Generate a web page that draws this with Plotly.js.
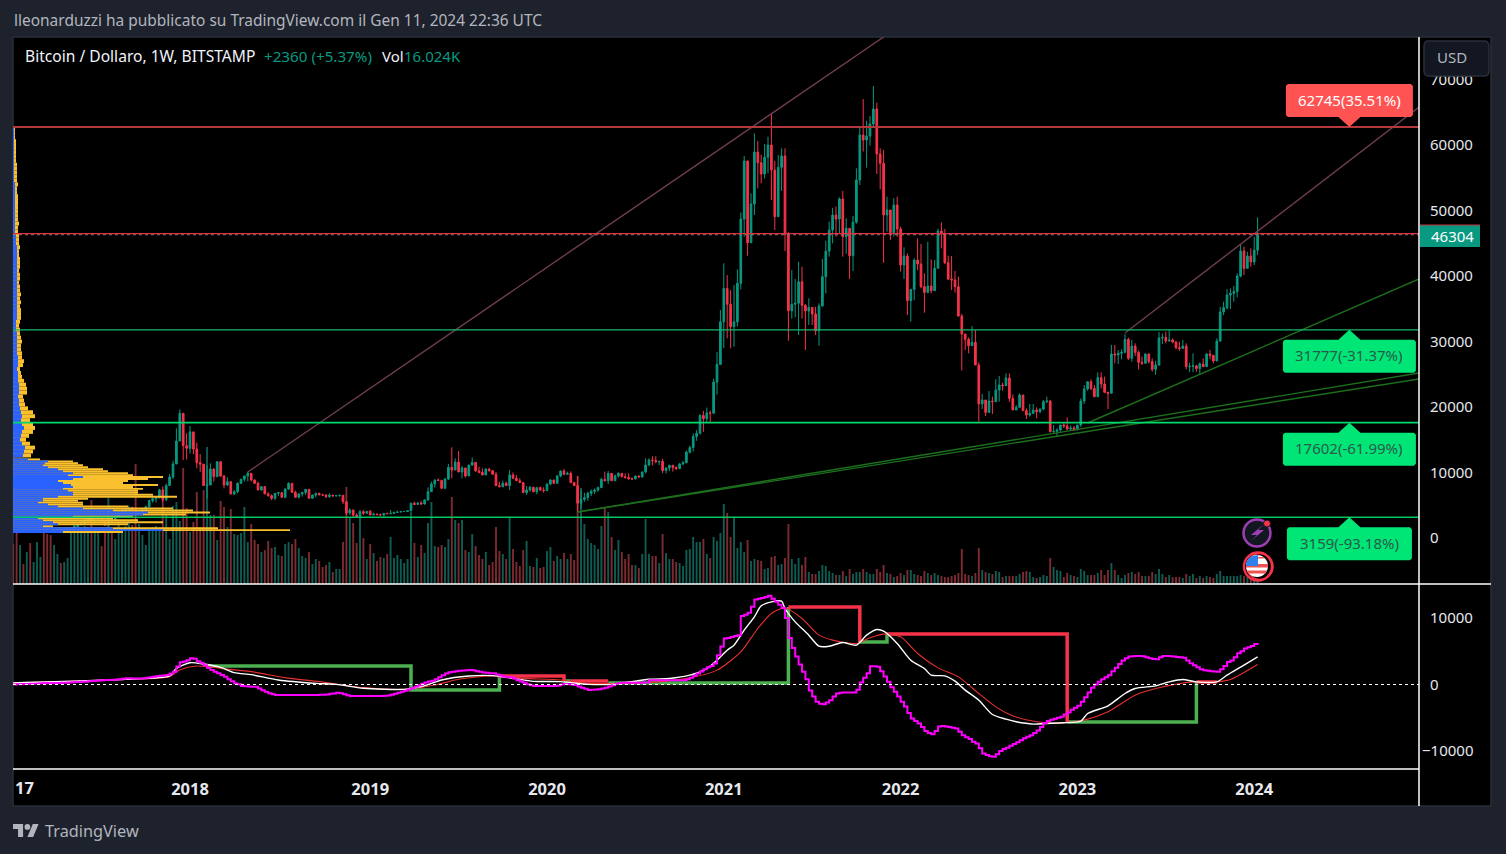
<!DOCTYPE html>
<html><head><meta charset="utf-8">
<script src="https://cdn.plot.ly/plotly-3.0.1.min.js"></script>
<style>html,body{margin:0;padding:0;background:#1e222d;overflow:hidden}#c{width:1506px;height:854px}</style>
</head><body><div id="c"></div>
<script>
// ---- weekly data, index 0 = week of 2017-01-02 ----
const firstOpen = 998;
const closes = [905,820,920,915,1020,1000,1050,1170,1270,1230,960,955,1125,1190,1170,1250,1340,1560,1770,2050,2190,2520,2950,2620,2720,2760,2520,1990,2750,2700,3250,4050,4060,4350,4600,4230,3680,3780,4300,4770,5700,6000,6130,7350,5850,8000,9300,11300,14800,19030,14100,13690,16200,13580,11500,11280,8000,8100,10530,9360,11650,9460,8090,8600,6720,7070,8350,8960,9470,9870,8850,8340,7330,7840,6720,6460,6060,6820,6920,6210,7480,8340,6970,6210,6720,6960,7430,6060,6550,6820,6560,6550,6300,6560,6430,6460,6520,5540,3820,4270,3510,3160,4020,3770,4070,3510,3640,3560,3510,3770,3700,3760,3900,3960,4030,4050,4160,5300,5130,5350,5190,5800,7070,8240,8860,8780,7580,9010,10790,10380,11600,10080,10690,9470,11140,11550,10230,10020,9620,10530,10280,9720,7990,7840,8350,8000,9620,9110,8750,8450,6920,7330,7740,7070,7690,7330,7250,8240,8860,8350,9470,10230,9720,9870,8450,7990,5300,5900,6160,6820,7120,7330,7690,8950,8750,9870,8750,9470,9880,9360,9220,9020,9000,9470,9320,10080,11150,11900,11850,11650,11700,10300,10670,11090,10780,10620,11300,11500,13100,13800,15500,16000,18700,18200,19100,19050,23800,26500,33000,38100,35700,32260,33000,38880,48700,57560,45090,50990,58930,57300,55570,58120,60000,56180,49060,56590,58320,46360,34700,35700,35830,39130,35520,34650,35210,34200,31650,35420,39900,43800,47020,49300,48700,51760,46000,47280,43100,48200,54660,61530,60760,61370,63200,65500,58630,57200,49310,50080,46600,50840,47170,41680,43050,36230,37960,42440,41830,38370,37500,38470,37760,41170,46870,46410,42030,39540,39390,38370,33890,31140,30330,29360,29870,26410,20460,21070,19180,20910,20810,22590,23360,23260,24420,21320,19540,19950,21830,19440,18780,19030,19540,19290,19680,20810,20910,16230,16280,16480,17250,17100,16640,16800,16490,17250,20910,22750,23860,22840,21580,24480,23510,22240,22090,28090,27950,28200,28340,30330,27430,29310,28340,26820,26670,28090,26920,25750,26410,30530,30630,30070,30230,29920,29060,28950,29310,26160,26220,26280,25860,26560,26160,28090,27890,27020,30070,34500,35170,37100,37350,37610,40000,43815,41170,43050,42140,43944,46304];
const highs = [1150,910,930,925,1030,1060,1060,1190,1290,1330,1260,1100,1150,1200,1215,1260,1350,1600,1850,2100,2700,2800,3000,2990,2790,2800,2790,2540,2900,2830,3450,4190,4480,4460,4980,4800,4350,4100,4350,4920,5850,6200,6340,7500,7880,8300,9750,11800,16740,19640,19030,15980,17100,16200,14550,12800,11300,11100,11400,10630,11650,11650,9620,9260,8500,7330,8500,9050,9470,10120,9770,8950,8600,7940,7730,7000,6660,6820,6920,6900,7580,8500,8340,7220,6820,6960,7430,7430,6660,6920,6920,6770,6670,6820,6560,6560,6600,6520,5650,4530,4310,3770,4280,4280,4120,4280,3870,3770,3720,3770,3820,4280,4020,4170,4130,4130,4280,5400,5550,5450,5650,5900,7730,8600,8950,9110,8890,9110,11300,13842,12160,13280,10990,10690,11140,12300,11550,10890,10640,10640,10640,10380,10060,8600,8760,8600,10380,10020,9620,9110,8550,7940,7940,7690,7690,7840,7740,8350,8960,8860,9620,10280,10540,10130,10180,8600,9460,7330,6920,7070,7430,7580,7840,9210,10130,10230,9870,9720,10030,9870,9870,9870,9260,9510,9520,10130,12160,12160,12480,12470,11790,12090,10800,11180,11170,10950,11440,11740,13350,14090,15960,16480,18900,19400,19900,19450,24300,28400,34800,41930,40150,37860,38620,41000,49700,58320,57600,52620,61780,60600,58470,60150,61270,64830,57560,58470,59490,59490,46700,40900,39540,42190,41420,35700,36590,35200,35300,35830,42590,45400,48300,50400,50600,52000,53000,48800,47280,49160,56440,62900,67020,63700,64400,69000,66460,59490,59240,52110,50080,51900,52110,47530,44380,43460,38000,42700,45750,44900,40400,45240,42540,42440,47200,48190,47170,43100,43050,40760,39900,34200,31150,30630,32360,31750,26820,21980,21070,22440,21580,24220,24730,23710,25140,25140,21930,20300,22090,21830,19800,20460,20460,19950,19800,21070,21580,21070,17250,16740,17250,17610,18420,17150,17100,17250,21320,23360,23970,24220,23360,25290,25290,24630,22340,29470,29470,28700,28810,31140,30580,30230,29720,28600,27680,28190,28190,27430,27070,31450,31240,31500,31860,30480,30070,29980,30230,29720,26770,28190,26410,26820,27430,28190,28700,27940,30480,35320,36080,37960,38120,38470,40400,44830,44500,43700,44220,46000,48950];
const lows = [880,750,815,880,910,950,990,1040,1170,1020,940,900,950,1110,1150,1150,1240,1340,1530,1700,1900,2100,2480,2050,2450,2350,2450,1830,1900,2400,2620,3200,3900,3980,4300,4050,2970,3500,3620,4200,4700,5400,5400,6050,5500,5600,7950,9000,11300,14800,11900,12000,12900,12800,10640,10100,7990,6060,8100,8600,9360,9360,7580,7920,6660,6560,6820,8240,8650,8650,8650,8240,7330,7220,6720,6310,5800,5800,6420,6190,6060,7330,6920,6210,6060,6310,6570,6060,6000,6210,6560,6410,6120,6120,6310,6350,6300,5200,3500,3510,3160,3160,3160,3510,3760,3510,3510,3510,3360,3260,3660,3690,3660,3820,3950,3980,3980,4020,5040,5130,5090,5090,5700,7070,7680,8750,7580,7580,8860,9110,10380,10080,9110,9210,9470,11000,10120,9870,9620,9720,10130,9720,7940,7740,7740,7990,7330,9010,8750,8450,6920,6570,7070,6970,6670,7230,6920,7270,8040,8250,8550,9260,9620,9720,8450,7990,3970,4530,5550,5700,6410,6720,7070,7690,8600,8240,8700,8700,9210,9260,9110,8960,9000,9000,9210,9210,9870,10990,11100,11400,11150,9900,9850,10200,10130,10370,10500,11170,11400,12900,13200,14850,15800,16200,17600,17600,19000,21900,26500,29000,30480,28960,29200,32300,37960,46000,43100,45100,49300,53380,54150,54900,55700,51600,47020,49000,53000,43800,30130,33480,33700,31000,33500,28700,32520,32520,30990,29360,35320,37350,42950,44980,46000,46500,42950,43400,39540,40760,48000,53900,59000,56540,59900,62900,55570,53230,42030,46770,45500,46000,46000,40660,39540,34040,33030,36300,40900,38110,34400,37350,37350,37760,41170,44220,41800,39380,37860,37450,33790,25550,28700,28200,29360,26410,17760,19700,18630,19180,18930,20810,20810,22490,23360,20810,19540,19540,19950,19440,18170,18520,18930,18270,19030,19540,20560,16130,15980,15570,16230,16790,16490,16390,16340,16490,16990,20460,22490,22590,21480,21480,22850,22090,19690,22090,26660,26560,27280,28200,27170,26920,27790,25750,26410,26670,26660,25390,24880,26310,29620,29720,30020,29720,28800,28550,28950,25750,25340,25340,25390,25040,26160,26160,27280,26660,27020,29970,34040,34900,34960,36080,36740,39800,40150,41170,41420,41680,43200];
// weekly volume, thousand BTC
const volumeK = [120,153,117,60,96,123,66,126,81,153,150,147,117,90,63,66,78,156,177,171,171,174,153,252,153,168,114,162,258,168,135,183,168,174,183,177,360,180,147,117,162,171,174,162,258,207,135,234,246,189,348,228,156,186,276,171,282,411,207,207,132,249,231,171,225,150,147,153,231,126,180,132,120,96,102,129,108,111,87,84,120,126,120,135,108,84,78,96,60,75,69,51,57,66,36,45,45,126,291,201,183,123,201,138,75,120,93,69,81,78,90,141,78,87,75,63,75,216,123,81,117,93,183,246,114,111,117,111,135,261,192,183,192,102,96,150,114,87,75,96,57,66,171,99,90,75,198,105,66,54,102,129,54,51,78,48,51,99,111,69,84,75,93,75,90,72,324,288,180,135,123,117,105,174,231,216,141,102,132,96,75,90,57,57,48,90,195,90,84,84,63,150,93,75,75,66,63,54,102,105,141,126,126,135,90,78,141,129,153,240,213,141,201,108,126,96,132,69,75,72,69,45,48,81,84,57,60,78,180,75,60,78,57,81,36,30,30,39,57,54,39,33,27,27,39,24,45,30,36,36,45,36,30,30,45,36,57,33,30,21,24,33,27,42,42,30,27,24,39,33,27,33,27,24,21,21,24,27,33,105,30,27,24,33,108,42,36,33,30,39,36,21,24,24,24,24,30,36,39,36,21,18,21,27,24,78,51,42,39,21,33,27,24,21,45,39,27,27,27,33,42,27,42,63,42,27,18,27,33,36,30,36,24,24,24,36,30,45,30,21,27,21,21,21,18,30,24,30,18,24,18,24,21,18,30,39,24,24,24,24,24,27,24,21,24,27,16];
// oscillator (weekly, USD): magenta momentum line
const momentum = [0,20,40,60,90,110,130,150,190,210,200,190,210,230,250,280,300,330,360,390,410,430,470,520,570,610,650,680,690,720,760,800,860,925,930,920,900,910,925,1000,1080,1150,1230,1300,1370,1430,1650,1930,2700,3330,3450,3650,3930,3880,3500,3280,2900,2500,2180,1900,1700,1430,1150,800,500,150,50,-225,-260,-300,-325,-350,-600,-850,-1100,-1330,-1450,-1580,-1580,-1580,-1580,-1580,-1580,-1580,-1580,-1580,-1580,-1580,-1580,-1580,-1560,-1540,-1500,-1400,-1350,-1230,-1300,-1450,-1600,-1730,-1730,-1730,-1730,-1730,-1730,-1730,-1730,-1730,-1730,-1700,-1650,-1550,-1400,-1250,-1080,-950,-750,-550,-325,-100,100,300,450,575,800,1100,1400,1650,1850,1930,2000,2050,2100,2130,2180,2150,2000,1900,1800,1750,1700,1680,1500,1350,1220,1100,1080,900,650,450,250,50,-100,-225,-225,-230,-225,-220,-225,-225,-150,0,75,50,0,-75,-300,-500,-650,-825,-800,-750,-700,-600,-475,-300,-100,100,175,250,250,250,260,270,280,290,300,650,650,650,640,630,620,620,630,640,650,650,800,1000,1300,1650,1950,2300,2600,2800,3150,4400,5700,6900,7000,7150,7300,7400,10300,10500,10800,11700,12800,12900,13000,13150,13330,12900,12430,12000,11500,10000,7000,5500,4200,3000,1900,800,-900,-1800,-2600,-2900,-2960,-2700,-2360,-1800,-1350,-1250,-1200,-1200,-1200,-1200,-800,300,1000,1700,2760,2760,2660,2000,1200,400,-400,-1100,-1800,-2600,-3300,-4300,-5110,-5500,-5870,-6400,-7000,-7300,-7470,-7000,-6300,-6250,-6300,-6400,-6500,-6620,-7100,-7620,-7950,-8200,-8600,-8870,-9600,-10380,-10600,-10800,-10880,-10500,-10000,-9700,-9500,-9200,-8950,-8700,-8400,-8100,-7850,-7620,-7300,-6900,-6400,-5800,-5500,-5300,-5150,-5000,-4860,-4500,-4200,-3800,-3500,-3200,-2600,-1900,-1200,-500,0,400,800,1100,1400,2000,2500,3100,3600,3950,4200,4260,4300,4300,4260,4100,3950,3850,3800,4100,4300,4300,4250,4200,4150,4100,4010,3600,3200,2900,2600,2300,2160,2050,2000,1950,1900,2300,2800,3400,3600,4100,4700,5000,5400,5600,5800,6100,6250];
// white and red averages, read at turning points: week index / value
const whiteWeeks = [0,33,46,48,52,56,61,65,70,78,89,95,103,115,120,126,134,141,147,153,161,169,176,187,193,199,204,207,210,212,215,218,220,223,226,227,230,234,237,240,244,248,251,254,256,260,264,268,270,274,277,280,284,288,292,295,300,304,309,314,316,322,327,330,336,340,344,348,354,357,362,366];
const whiteVals = [225,780,1280,2430,3280,3080,2580,1780,1480,680,175,25,-575,-730,-325,680,1280,1330,925,475,425,25,25,800,900,1400,2400,3660,5160,5900,8170,10180,11830,12430,12530,11430,9420,7420,5760,5760,6320,5920,7420,8270,8020,6170,3660,2410,1400,1300,500,-850,-2360,-4510,-5210,-5610,-5960,-5860,-5760,-5510,-4360,-3210,-1350,-600,-200,400,750,400,400,1400,2910,4160];
const redWeeks = [0,33,46,49,54,61,70,80,90,103,115,124,131,141,150,161,169,186,199,207,214,219,223,227,232,237,241,248,252,256,261,266,272,278,284,289,294,301,309,315,322,330,337,347,354,358,366];
const redVals = [225,780,1180,2180,2780,2430,1930,1030,425,-475,-730,-75,780,1280,925,680,175,275,1000,2160,4910,8420,10680,11530,9930,7420,6670,6170,7020,7570,7170,4660,2500,1150,-1350,-3360,-4710,-5610,-5760,-5360,-4110,-1600,-500,400,400,750,3010];
// thick stepped line: green and red runs
const stepGreenWeeks = [57,117,117,143,143,null,162,164,null,175,228,228,null,249,257,257,null,310,348,348];
const stepGreenVals = [2780,2780,-830,-830,1280,null,530,530,null,230,230,11650,null,6390,6390,7590,null,-5640,-5640,380];
const stepRedWeeks = [143,162,162,null,164,175,null,228,249,249,null,257,310,310,null,348,354];
const stepRedVals = [1280,1280,530,null,530,530,null,11650,11650,6390,null,7590,7590,-5640,null,380,380];
// horizontal levels
const levelSupport = [31777,17602,3159];
const levelSupportText = ['31777(-31.37%)','17602(-61.99%)','3159(-93.18%)'];
const levelResist = 62745, levelResistText = '62745(35.51%)';
const lastPrice = 46304, redLine = 46480;
// sloped lines: [week, price, week, price]
const rayPink = [[69,10076,256,76489],[327,31300,413.5,65800]];
const rayGreen = [[166,3969,413.5,25191],[166,3969,413.5,24275],[316,17557,413.5,39542]];
// volume profile rows
const vpLowPrice = [900,1200,1500,1800,2100,2400,2700,3000,3300,3600,3900,4200,4500,4800,5100,5400,5700,6000,6300,6600,6900,7200,7500,7800,8100,8400,8700,9000,9300,9600,9900,10200,10500,10800,11100,11400,11700,12000];
const vpLowBlue = [50,150,100,30,45,40,30,25,60,130,135,100,70,45,35,25,30,30,45,60,60,55,50,60,58,50,45,60,70,55,60,50,45,35,30,32,35,15];
const vpLowTotal = [110,277,205,40,115,150,125,100,120,173,197,180,160,115,70,70,65,75,164,140,125,125,130,120,145,110,115,135,150,120,115,95,90,75,70,65,60,27];
const vpHighPrice = [12600,13200,13800,14400,15000,15600,16200,16800,17400,18000,18600,19200,19800,20400,21000,21600,22200,22800,23400,24000,24600,25200,25800,26400,27000,27600,28200,28800,29400,30000,30600,31200,31800,32400,33000,33600,34200,34800,35400,36000,36600,37200,37800,38400,39000,39600,40200,40800,41400,42000,42600,43200,43800,44400,45000,45600,46200,46800,47400,48000,48600,49200,49800,50400,51000,51600,52200,52800,53400,54000,54600,55200,55800,56400,57000,57600,58200,58800,59400,60000,60600,61200,61800,62400];
const vpHighBlue = [10,11,12,9,7,8,9,11,9,8,9,8,7,6,6,5,6,6,6,5,5,5,4,5,5,5,4,4,4,4,4,4,3,3,3,4,4,4,4,4,4,4,4,4,4,4,4,4,4,4,4,4,4,4,3,3,3,2,2,2,2,2,2,2,2,2,2,2,2,2,1,1,1,1,1,1,1,1,1,1,1,1,1,1];
const vpHighTotal = [18,20,22,17,13,16,20,22,20,17,22,20,15,12,11,10,14,14,13,11,9,8,7,10,11,9,9,8,8,9,8,7,7,6,7,8,8,8,7,8,7,8,7,7,6,7,7,6,7,7,7,6,6,7,6,6,6,5,5,6,5,5,5,5,5,5,5,4,4,5,4,4,4,4,4,3,3,3,3,3,3,2,2,2];
const yearTicks = ['2018-01-01','2019-01-07','2020-01-06','2021-01-04','2022-01-03','2023-01-02','2024-01-01'];
const yearLabels = ['2018','2019','2020','2021','2022','2023','2024'];
const priceTicks = [0,10000,20000,30000,40000,50000,60000,70000];
const oscTicks = [0,10000];

// ---- helpers ----
const W=1506,H=854, FONT='Noto Sans';
const wk = i => i===null?null:new Date(Date.UTC(2017,0,2)+i*7*864e5).toISOString().slice(0,19).replace('T',' ');
const weeks = closes.map((_,i)=>wk(i));
const opens = closes.map((_,i)=>i?closes[i-1]:firstOpen);
const UP='#089981', DOWN='#f7334a';
const fx=x=>x/W, fy=y=>1-y/H;
const labelWeek = 393.0;

const traces=[];
traces.push({type:'bar',x:weeks,y:volumeK,xaxis:'x',yaxis:'y',width:7*864e5*0.56,hoverinfo:'skip',
  marker:{color:closes.map((c,i)=>c>=opens[i]?'#0f5c52':'#7c2b30'),line:{width:0}}});
traces.push({type:'candlestick',x:weeks,open:opens,high:highs,low:lows,close:closes,xaxis:'x',yaxis:'y2',
  width:7*864e5*0.62,whiskerwidth:0,hoverinfo:'skip',
  increasing:{line:{color:UP,width:1},fillcolor:UP},decreasing:{line:{color:DOWN,width:1},fillcolor:DOWN}});
rayPink.forEach(r=>traces.push({type:'scatter',mode:'lines',x:[wk(r[0]),wk(r[2])],y:[r[1],r[3]],xaxis:'x',yaxis:'y2',hoverinfo:'skip',line:{color:'#6f3d55',width:1.4}}));
rayGreen.forEach(r=>traces.push({type:'scatter',mode:'lines',x:[wk(r[0]),wk(r[2])],y:[r[1],r[3]],xaxis:'x',yaxis:'y2',hoverinfo:'skip',line:{color:'#1c6f1c',width:1.4}}));
// volume profile
const vpBar=(y,x,c,h)=>({type:'bar',orientation:'h',y,x,xaxis:'x2',yaxis:'y2',width:h,hoverinfo:'skip',marker:{color:c,line:{width:0}}});
traces.push(vpBar(vpLowPrice,vpLowTotal,'#fbc02d',300),vpBar(vpLowPrice,vpLowBlue,'#2962ff',300));
traces.push(vpBar(vpHighPrice,vpHighTotal,'#fbc02d',600),vpBar(vpHighPrice,vpHighBlue,'#2962ff',600));
// oscillator
const osc=(x,y,c,w,shape,sm)=>({type:'scatter',mode:'lines',x,y,xaxis:'x',yaxis:'y3',hoverinfo:'skip',connectgaps:false,line:Object.assign({color:c,width:w,shape:shape||'linear'},sm?{smoothing:sm}:{})});
traces.push(osc(stepGreenWeeks.map(wk),stepGreenVals,'#4caf50',3.5));
traces.push(osc(stepRedWeeks.map(wk),stepRedVals,'#f7334a',3.5));
traces.push(osc(redWeeks.map(wk),redVals,'#e8302f',1.1,'spline',0.7));
traces.push(osc(whiteWeeks.map(wk),whiteVals,'#ffffff',1.4,'spline',0.7));
traces.push(osc(weeks,momentum,'#ff00ff',2,'hv'));

// ---- shapes ----
const rectP=(x0,y0,x1,y1,fill,line,layer)=>({type:'rect',xref:'paper',yref:'paper',x0:fx(x0),x1:fx(x1),y0:fy(y0),y1:fy(y1),fillcolor:fill,line:line||{width:0},layer:layer||'above'});
const lineP=(x0,y0,x1,y1,c,w)=>({type:'line',xref:'paper',yref:'paper',x0:fx(x0),x1:fx(x1),y0:fy(y0),y1:fy(y1),line:{color:c,width:w||1},layer:'above'});
const pathP=(pts,fill,line)=>({type:'path',xref:'paper',yref:'paper',path:'M '+pts.map(p=>fx(p[0])+' '+fy(p[1])).join(' L ')+' Z',fillcolor:fill,line:line||{width:0},layer:'above'});
const circ=(cx,cy,r,fill,line)=>({type:'circle',xref:'paper',yref:'paper',x0:fx(cx-r),x1:fx(cx+r),y0:fy(cy+r),y1:fy(cy-r),fillcolor:fill,line:line||{width:0},layer:'above'});
const hline=(v,c,w,dash)=>({type:'line',xref:'x domain',yref:'y2',x0:0,x1:1,y0:v,y1:v,line:{color:c,width:w,dash:dash||'solid'},layer:'above'});
function tag(level,halfW,up,color){ // box with pointer, pixel offsets from the level line
  const s=up?-1:1;
  const path=`M 0 0 L 11 ${s*10} L ${halfW-2} ${s*10} L ${halfW} ${s*12} L ${halfW} ${s*41} L ${halfW-2} ${s*43} L ${-halfW+2} ${s*43} L ${-halfW} ${s*41} L ${-halfW} ${s*12} L ${-halfW+2} ${s*10} L -11 ${s*10} Z`;
  return {type:'path',xref:'x',yref:'y2',xsizemode:'pixel',ysizemode:'pixel',xanchor:wk(labelWeek),yanchor:level,path,fillcolor:color,line:{width:0},layer:'above'};
}
function disc(cx,cy,r,y0,y1){ // band of a circle between two y values, for the flag
  const pts=[],n=10;
  for(let k=0;k<=n;k++){const y=y0+(y1-y0)*k/n;pts.push([cx+Math.sqrt(Math.max(0,r*r-(y-cy)*(y-cy))),y]);}
  for(let k=n;k>=0;k--){const y=y0+(y1-y0)*k/n;pts.push([cx-Math.sqrt(Math.max(0,r*r-(y-cy)*(y-cy))),y]);}
  return pts;
}
const shapes=[
  rectP(13,37,1491,806,'#000000',{color:'#2a2e39',width:1.5},'below'),
  hline(levelResist,'#b23a3e',2),
  hline(lastPrice,'#8f8080',1,'dot'),
  hline(redLine,'#e0303f',1.2),
  hline(levelSupport[0],'#17b86a',1.3),
  hline(levelSupport[1],'#00d96b',1.8),
  hline(levelSupport[2],'#00c860',1.6),
  {type:'line',xref:'x domain',yref:'y3',x0:0,x1:1,y0:0,y1:0,line:{color:'#ffffff',width:1,dash:'dot'},layer:'above'},
  tag(levelResist,63.5,false,'#ff5252'),
  tag(levelSupport[0],66.5,true,'#00e676'),
  tag(levelSupport[1],66.5,true,'#00e676'),
  tag(levelSupport[2],62.5,true,'#00e676'),
  lineP(13,584,1491,584,'#ffffff',1.5),
  lineP(13,769,1419,769,'#ffffff',1.5),
  lineP(1419,37,1419,806,'#ffffff',1.5),
  // last price pill
  rectP(1420,225,1480,247,'#089981'),
  lineP(1420,225,1480,225,'#c8303e',1),
  // USD button
  {type:'path',xref:'paper',yref:'paper',layer:'above',fillcolor:'#131722',line:{color:'#2a2e39',width:1.5},
   path:`M ${fx(1429)} ${fy(41)} L ${fx(1484)} ${fy(41)} Q ${fx(1489)} ${fy(41)} ${fx(1489)} ${fy(46)} L ${fx(1489)} ${fy(71)} Q ${fx(1489)} ${fy(76)} ${fx(1484)} ${fy(76)} L ${fx(1429)} ${fy(76)} Q ${fx(1424)} ${fy(76)} ${fx(1424)} ${fy(71)} L ${fx(1424)} ${fy(46)} Q ${fx(1424)} ${fy(41)} ${fx(1429)} ${fy(41)} Z`},
  // lightning badge
  circ(1257,533,13.5,'#131722',{color:'#9c3fb5',width:2.5}),
  pathP([[1264,524],[1251,535],[1257,535],[1251,541],[1264,530],[1258,530]],'#9c3fb5'),
  circ(1267,523.5,3.5,'#f7334a',{color:'#131722',width:1}),
  // flag badge
  circ(1258,566.5,14,'#000000',{color:'#f7334a',width:2.4}),
  circ(1260,566.5,13,'rgba(0,0,0,0)',{color:'#f7334a',width:1.5}),
  circ(1257,566,11,'#ffffff'),
  pathP(disc(1257,566,11,564,567.5),'#ef5350'),
  pathP(disc(1257,566,11,570.5,573.5),'#ef5350'),
  pathP(disc(1257,566,11,557,558.5),'#ef5350'),
  pathP([[1246,566],[1246.5,562],[1249,558],[1252,556],[1258,555],[1258,566]],'#2f80ed'),
  // TradingView mark
  pathP([[23.08,836.98],[18.04,836.98],[18.04,829.06],[13,829.06],[13,824],[23.08,824]],'#b2b5be'),
  pathP([[33.16,836.98],[27.4,836.98],[32.8,824],[38.56,824]],'#b2b5be'),
  circ(27.4,826.9,2.88,'#b2b5be'),
];

// ---- annotations ----
const ann=(t,x,y,size,color,extra)=>Object.assign({text:t,xref:'paper',yref:'paper',x:fx(x),y:fy(y),xanchor:'left',yanchor:'middle',showarrow:false,font:{family:FONT,size,color},borderpad:0},extra||{});
const tagText=(t,level,shift,color)=>({text:t,xref:'x',yref:'y2',x:wk(labelWeek),y:level,yshift:shift,xanchor:'center',yanchor:'middle',showarrow:false,font:{family:FONT,size:15,color},borderpad:0});
const annotations=[
  ann('lleonarduzzi ha pubblicato su TradingView.com il Gen 11, 2024 22:36 UTC',12.5,20.5,15.47,'#b2b5be'),
  ann('Bitcoin / Dollaro, 1W, BITSTAMP',23.5,56,15.6,'#f0f3fa'),
  ann('+2360 (+5.37%)',262.5,56,15.2,'#089981'),
  ann('Vol',380.5,56,15,'#f0f3fa'),
  ann('16.024K',402.5,56,15,'#089981'),
  ann('USD',1435.5,57,15,'#b2b5be'),
  ann(String(lastPrice),1429.5,236,15,'#ffffff'),
  ann('\u221210000',1421,750,15,'#e6e8ee'),
  ann('17',13.5,787.5,16.5,'#e6e8ee',{font:{family:FONT,size:16.5,color:'#e6e8ee',weight:700}}),
  ann('TradingView',43.5,830.5,16.3,'#b2b5be'),
  tagText(levelResistText,levelResist,27.5,'#ffffff'),
  tagText(levelSupportText[0],levelSupport[0],-25.5,'#285a4c'),
  tagText(levelSupportText[1],levelSupport[1],-25.5,'#285a4c'),
  tagText(levelSupportText[2],levelSupport[2],-25.5,'#285a4c'),
];

const tickFont={family:FONT,size:15,color:'#e6e8ee'};
const layout={
  width:W,height:H,autosize:false,margin:{l:0,r:0,t:0,b:0,pad:0},
  paper_bgcolor:'#1e222d',plot_bgcolor:'rgba(0,0,0,0)',showlegend:false,barmode:'overlay',dragmode:false,
  xaxis:{type:'date',domain:[fx(13),fx(1419)],range:[wk(-0.06),wk(413.47)],anchor:'y3',tickmode:'array',tickvals:yearTicks,ticktext:yearLabels,
    tickfont:{family:FONT,size:16.5,color:'#e6e8ee',weight:700},ticks:'outside',ticklen:5,tickcolor:'rgba(0,0,0,0)',showgrid:false,zeroline:false,showline:false,rangeslider:{visible:false}},
  xaxis2:{overlaying:'x',anchor:'y2',range:[0,1406],visible:false,showgrid:false,zeroline:false},
  yaxis:{domain:[fy(584),fy(37)],range:[0,1641],anchor:'x',visible:false,showgrid:false,zeroline:false},
  yaxis2:{overlaying:'y',side:'right',anchor:'x',range:[-7023,76489],tickmode:'array',tickvals:priceTicks,ticktext:priceTicks.map(String),
    tickfont:tickFont,ticks:'outside',ticklen:7,tickcolor:'rgba(0,0,0,0)',showgrid:false,zeroline:false,showline:false},
  yaxis3:{domain:[fy(769),fy(585)],side:'right',anchor:'x',range:[-12707,14962],tickmode:'array',tickvals:oscTicks,ticktext:oscTicks.map(String),
    tickfont:tickFont,ticks:'outside',ticklen:7,tickcolor:'rgba(0,0,0,0)',showgrid:false,zeroline:false,showline:false},
  shapes,annotations
};
Plotly.newPlot('c',traces,layout,{staticPlot:true,displayModeBar:false});
</script></body></html>
